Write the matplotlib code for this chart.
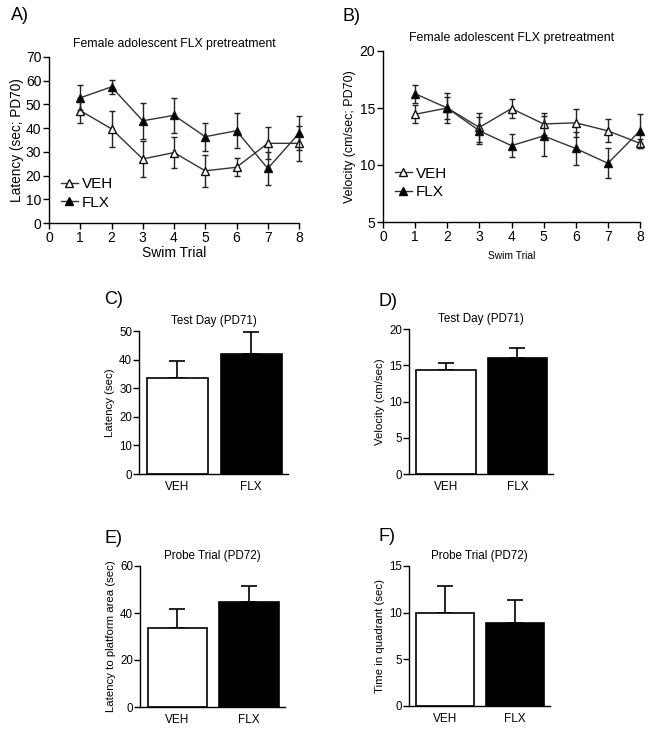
import numpy as np
import matplotlib
matplotlib.use("Agg")
import matplotlib.pyplot as plt
from matplotlib.lines import Line2D

plt.rcParams['font.family'] = ['Liberation Sans', 'DejaVu Sans']

# swim trials (PD70)
trials = [1, 2, 3, 4, 5, 6, 7, 8]
lat_veh = [47.4, 39.7, 27.0, 29.7, 22.0, 23.5, 33.6, 33.6]
lat_veh_err = [5.2, 7.6, 7.5, 6.5, 6.8, 3.8, 6.8, 7.5]
lat_flx = [52.8, 57.4, 43.1, 45.4, 36.4, 38.9, 23.0, 37.8]
lat_flx_err = [5.3, 3.0, 7.6, 7.5, 5.9, 7.3, 7.0, 7.2]

vel_veh = [14.45, 15.0, 13.3, 14.95, 13.6, 13.7, 13.0, 11.9]
vel_veh_err = [0.8, 1.35, 1.3, 0.8, 0.95, 1.25, 1.0, 0.4]
vel_flx = [16.25, 15.0, 13.0, 11.7, 12.55, 11.45, 10.15, 13.0]
vel_flx_err = [0.78, 1.0, 1.2, 1.0, 1.75, 1.45, 1.3, 1.5]

# test day / probe trial
groups = ['VEH', 'FLX']
test_lat = [33.7, 41.9]
test_lat_err = [5.8, 7.6]
test_vel = [14.4, 16.0]
test_vel_err = [0.9, 1.35]
probe_lat = [33.6, 44.7]
probe_lat_err = [8.1, 6.8]
probe_time = [10.0, 8.9]
probe_time_err = [2.9, 2.5]

W, H = 654, 732
fig = plt.figure(figsize=(W / 100, H / 100), dpi=100)


def px_axes(l, t, r, b):
    ax = fig.add_axes([l / W, 1 - b / H, (r - l) / W, (b - t) / H])
    for s in ['top', 'right']:
        ax.spines[s].set_visible(False)
    for s in ['left', 'bottom']:
        ax.spines[s].set_linewidth(1.0)
    return ax


def line_panel(ax, veh, veh_err, flx, flx_err):
    for vals, errs, fc, z in [(veh, veh_err, 'white', 3), (flx, flx_err, 'black', 4)]:
        cont = ax.errorbar(trials, vals, yerr=errs, color='#333333', lw=1.0, marker='^',
                           ms=6, mfc=fc, mec='#111111', mew=1.0, capsize=2.5, elinewidth=1.0,
                           capthick=1.0, ecolor='#222222', zorder=z)
        for art in cont.get_children():
            art.set_clip_on(False)
    ax.set_xlim(0, 8)
    ax.set_xticks(range(0, 9))
    ax.tick_params(direction='out', length=4, width=1.0, labelsize=10, pad=1.5)


def add_legend(ax, x, y):
    handles = [Line2D([], [], color='#333333', lw=1.0, marker='^', ms=6, mfc='white', mec='#111111'),
               Line2D([], [], color='#333333', lw=1.0, marker='^', ms=6, mfc='black', mec='black')]
    ax.legend(handles, ['VEH', 'FLX'], loc='center left', bbox_to_anchor=(x / W, 1 - y / H),
              bbox_transform=fig.transFigure, frameon=False, fontsize=11, borderpad=0,
              handlelength=1.1, handletextpad=0.25, labelspacing=0.3, borderaxespad=0)


def bar_panel(ax, vals, errs, ylim, yticks, ylabel, title):
    x = np.arange(len(groups))
    ax.bar(x, vals, width=0.83, color=['white', 'black'], edgecolor='black', lw=1.2, zorder=2)
    ax.errorbar(x, vals, yerr=[[0, 0], errs], fmt='none', ecolor='black', elinewidth=1.2,
                capsize=6, capthick=1.2, zorder=1)
    ax.set_xlim(-0.52, 1.5)
    ax.set_ylim(*ylim)
    ax.set_yticks(yticks)
    ax.set_xticks(x)
    ax.set_xticklabels(groups)
    ax.tick_params(axis='x', length=0, labelsize=8.5, pad=5)
    ax.tick_params(axis='y', direction='out', length=4, width=1.0, labelsize=8.3, pad=1)
    ax.set_ylabel(ylabel, fontsize=8.2, labelpad=3)
    ax.set_title(title, fontsize=8.4, pad=5)


# A) latency
axA = px_axes(49, 57, 299, 223)
line_panel(axA, lat_veh, lat_veh_err, lat_flx, lat_flx_err)
axA.set_ylim(0, 70)
axA.set_yticks(range(0, 71, 10))
axA.set_xlabel('Swim Trial', fontsize=10, labelpad=1)
axA.set_ylabel('Latency (sec; PD70)', fontsize=9.8, labelpad=1)
axA.set_title('Female adolescent FLX pretreatment', fontsize=8.8, pad=7)
add_legend(axA, 61, 193.5)

# B) velocity
axB = px_axes(383, 51, 640, 222)
line_panel(axB, vel_veh, vel_veh_err, vel_flx, vel_flx_err)
axB.set_ylim(5, 20)
axB.set_yticks([5, 10, 15, 20])
axB.set_xlabel('Swim Trial', fontsize=7.4, labelpad=5)
axB.set_ylabel('Velocity (cm/sec; PD70)', fontsize=9, labelpad=3)
axB.set_title('Female adolescent FLX pretreatment', fontsize=8.9, pad=7)
add_legend(axB, 395, 183)

# C) - F) bars
axC = px_axes(139, 331, 288, 474)
bar_panel(axC, test_lat, test_lat_err, (0, 50), range(0, 51, 10), 'Latency (sec)', 'Test Day (PD71)')
axD = px_axes(409, 329, 553, 474)
bar_panel(axD, test_vel, test_vel_err, (0, 20), [0, 5, 10, 15, 20], 'Velocity (cm/sec)', 'Test Day (PD71)')
axE = px_axes(140, 566, 285, 707)
bar_panel(axE, probe_lat, probe_lat_err, (0, 60), [0, 20, 40, 60], 'Latency to platform area (sec)',
          'Probe Trial (PD72)')
axF = px_axes(409, 566, 550, 706)
bar_panel(axF, probe_time, probe_time_err, (0, 15), [0, 5, 10, 15], 'Time in quadrant (sec)',
          'Probe Trial (PD72)')

# panel letters
for lab, x, y in [('A)', 11, 7), ('B)', 343, 8), ('C)', 104, 291), ('D)', 378, 293),
                  ('E)', 104, 530), ('F)', 378, 528)]:
    fig.text(x / W, 1 - y / H, lab, fontsize=13, ha='left', va='top')

fig.savefig('out.png', dpi=100)
